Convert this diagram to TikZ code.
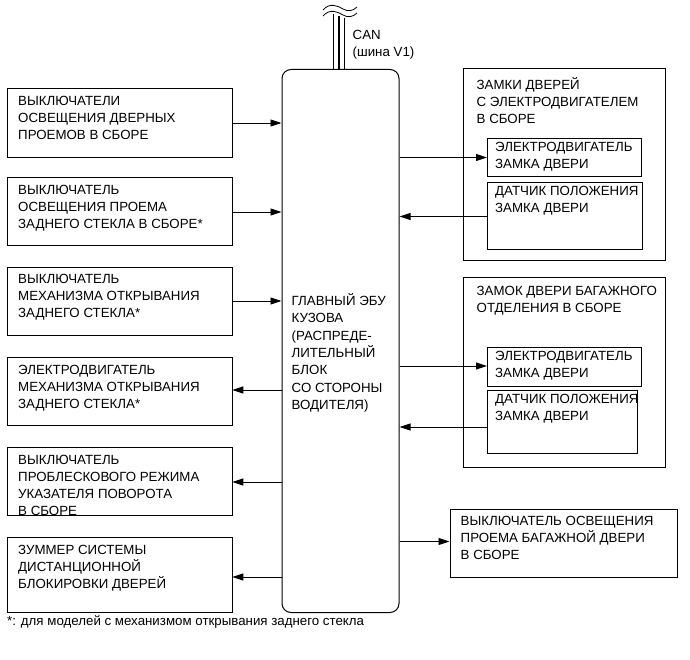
\documentclass[tikz,border=0pt]{standalone}
\usepackage{fontspec}
\setmainfont{Liberation Sans}
\usetikzlibrary{arrows.meta}
\begin{document}
\begin{tikzpicture}[x=1pt,y=-1pt,
  box/.style={draw,line width=0.8pt,inner sep=0pt,anchor=north west},
  lbl/.style={anchor=north west,align=left,inner sep=0pt,font=\fontsize{13.3}{16.9}\selectfont},
  arr/.style={line width=0.9pt,-{Triangle[length=11pt,width=7pt]}},
  wire/.style={line width=1.9pt}]
\useasboundingbox (0,0) rectangle (690,660);
% central ECU
\node[box,rounded corners=9pt,line width=1pt,minimum width=117pt,minimum height=543pt] (ecu) at (281.5,69) {};
\node[lbl,font=\fontsize{13.3}{17.4}\selectfont] (ecut) at (291.5,293) {ГЛАВНЫЙ ЭБУ\\КУЗОВА\\(РАСПРЕДЕ-\\ЛИТЕЛЬНЫЙ\\БЛОК\\СО СТОРОНЫ\\ВОДИТЕЛЯ)};
% CAN wires
\coordinate (w1) at (333.5,14);
\coordinate (w2) at (339,16);
\coordinate (w3) at (344.5,18);
\draw[wire] (w1) -- (w1 |- ecu.north);
\draw[wire] (w2) -- (w2 |- ecu.north);
\draw[wire] (w3) -- (w3 |- ecu.north);
\draw[line width=0.8pt] (323,10) .. controls (330,2) and (338,6) .. (343,9) .. controls (348,12) and (353,11) .. (357,7);
\draw[line width=0.8pt] (323,16) .. controls (330,8) and (338,12) .. (343,15) .. controls (348,18) and (353,17) .. (357,13);
\node[lbl,align=left] (can) at (352.5,30) {CAN\\(шина V1)};
% left boxes
\node[box,minimum width=225pt,minimum height=69pt] (l1) at (6.5,88) {};
\node[box,minimum width=225pt,minimum height=68pt] (l2) at (6.5,177) {};
\node[box,minimum width=225pt,minimum height=68pt] (l3) at (6.5,266.5) {};
\node[box,minimum width=225pt,minimum height=68pt] (l4) at (6.5,357) {};
\node[box,minimum width=225pt,minimum height=68pt] (l5) at (6.5,447) {};
\node[box,minimum width=225pt,minimum height=75pt] (l6) at (6.5,537) {};
\node[lbl] (t1) at ([shift={(11.5,8)}]l1.north west) {ВЫКЛЮЧАТЕЛИ\\ОСВЕЩЕНИЯ ДВЕРНЫХ\\ПРОЕМОВ В СБОРЕ};
\node[lbl] (t2) at ([shift={(11.5,8)}]l2.north west) {ВЫКЛЮЧАТЕЛЬ\\ОСВЕЩЕНИЯ ПРОЕМА\\ЗАДНЕГО СТЕКЛА В СБОРЕ*};
\node[lbl] (t3) at ([shift={(11.5,8)}]l3.north west) {ВЫКЛЮЧАТЕЛЬ\\МЕХАНИЗМА ОТКРЫВАНИЯ\\ЗАДНЕГО СТЕКЛА*};
\node[lbl] (t4) at ([shift={(11.5,8)}]l4.north west) {ЭЛЕКТРОДВИГАТЕЛЬ\\МЕХАНИЗМА ОТКРЫВАНИЯ\\ЗАДНЕГО СТЕКЛА*};
\node[lbl] (t5) at ([shift={(11.5,8)}]l5.north west) {ВЫКЛЮЧАТЕЛЬ\\ПРОБЛЕСКОВОГО РЕЖИМА\\УКАЗАТЕЛЯ ПОВОРОТА\\В СБОРЕ};
\node[lbl] (t6) at ([shift={(11.5,8)}]l6.north west) {ЗУММЕР СИСТЕМЫ\\ДИСТАНЦИОННОЙ\\БЛОКИРОВКИ ДВЕРЕЙ};
\draw[arr] (l1.east |- 0,123) -- (ecu.west |- 0,123);
\draw[arr] (l2.east |- 0,212) -- (ecu.west |- 0,212);
\draw[arr] (l3.east |- 0,301) -- (ecu.west |- 0,301);
\draw[arr] (ecu.west |- 0,390) -- (l4.east |- 0,390);
\draw[arr] (ecu.west |- 0,482) -- (l5.east |- 0,482);
\draw[arr] (ecu.west |- 0,577) -- (l6.east |- 0,577);
% right group 1
\node[box,minimum width=202pt,minimum height=192pt] (r1) at (463,68) {};
\node[lbl] (r1t) at (476.5,77) {ЗАМКИ ДВЕРЕЙ\\С ЭЛЕКТРОДВИГАТЕЛЕМ\\В СБОРЕ};
\node[box,minimum width=154pt,minimum height=38.5pt] (m1) at (487,138) {};
\node[lbl] (m1t) at ([shift={(8,4)}]m1.north west) {ЭЛЕКТРОДВИГАТЕЛЬ\\ЗАМКА ДВЕРИ};
\node[box,minimum width=155pt,minimum height=67pt] (s1) at (487,182) {};
\node[lbl] (s1t) at ([shift={(8,4)}]s1.north west) {ДАТЧИК ПОЛОЖЕНИЯ\\ЗАМКА ДВЕРИ};
\draw[arr] (ecu.east |- 0,157.5) -- (m1.west |- 0,157.5);
\draw[arr] (s1.west |- 0,216.5) -- (ecu.east |- 0,216.5);
% right group 2
\node[box,minimum width=202pt,minimum height=190pt] (r2) at (463,277) {};
\node[lbl] (r2t) at (476.5,286) {ЗАМОК ДВЕРИ БАГАЖНОГО\\ОТДЕЛЕНИЯ В СБОРЕ};
\node[box,minimum width=154pt,minimum height=38.5pt] (m2) at (487,347) {};
\node[lbl] (m2t) at ([shift={(8,4)}]m2.north west) {ЭЛЕКТРОДВИГАТЕЛЬ\\ЗАМКА ДВЕРИ};
\node[box,minimum width=150pt,minimum height=63pt] (s2) at (487,390) {};
\node[lbl] (s2t) at ([shift={(8,4)}]s2.north west) {ДАТЧИК ПОЛОЖЕНИЯ\\ЗАМКА ДВЕРИ};
\draw[arr] (ecu.east |- 0,366) -- (m2.west |- 0,366);
\draw[arr] (s2.west |- 0,427) -- (ecu.east |- 0,427);
% bottom right
\node[box,minimum width=227pt,minimum height=68.5pt] (br) at (449.5,508.5) {};
\node[lbl] (brt) at ([shift={(11,8)}]br.north west) {ВЫКЛЮЧАТЕЛЬ ОСВЕЩЕНИЯ\\ПРОЕМА БАГАЖНОЙ ДВЕРИ\\В СБОРЕ};
\draw[arr] (ecu.east |- 0,541.5) -- (br.west |- 0,541.5);
% footnote
\node[lbl] (fn) at (7,615) {*: для моделей с механизмом открывания заднего стекла};
\end{tikzpicture}
\end{document}
